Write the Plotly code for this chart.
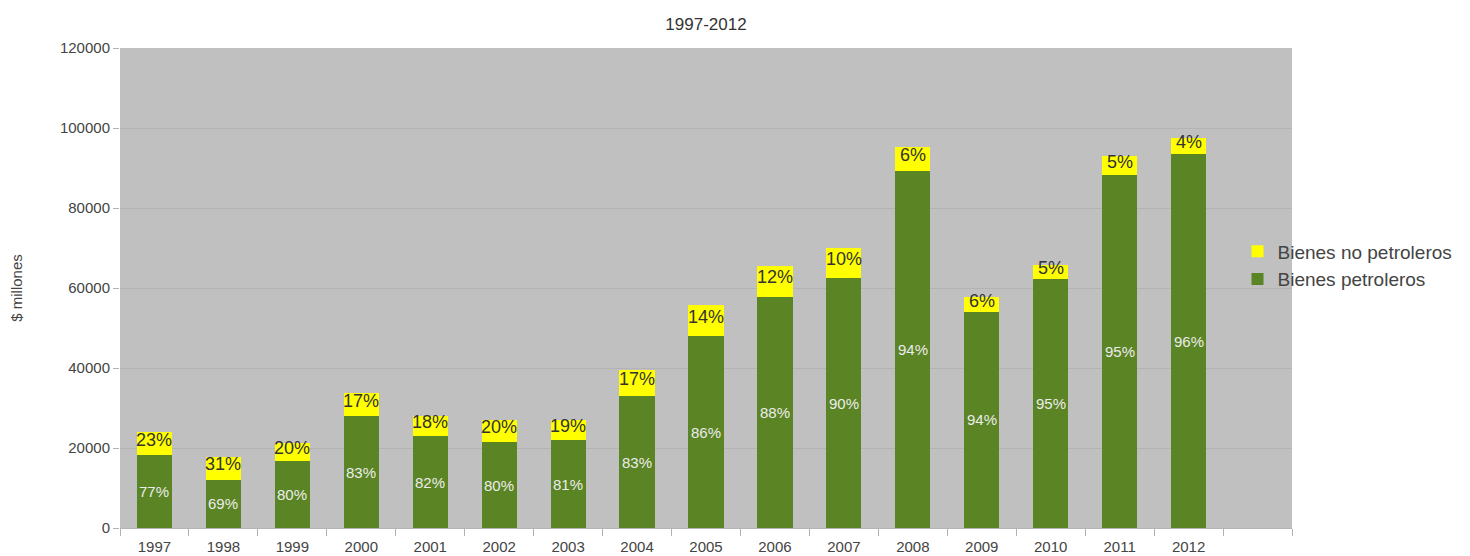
import plotly.graph_objects as go

years = [1997, 1998, 1999, 2000, 2001, 2002, 2003, 2004, 2005, 2006, 2007, 2008, 2009, 2010, 2011, 2012]
petroleros = [18250, 12100, 16800, 27900, 22900, 21500, 22000, 32900, 47900, 57750, 62500, 89250, 54100, 62150, 88250, 93500]
no_petroleros = [5750, 5700, 4400, 5850, 5050, 5400, 5100, 6650, 7850, 7800, 7550, 5900, 3550, 3650, 4650, 4000]
pct_petroleros = ["77%", "69%", "80%", "83%", "82%", "80%", "81%", "83%", "86%", "88%", "90%", "94%", "94%", "95%", "95%", "96%"]
pct_no_petroleros = ["23%", "31%", "20%", "17%", "18%", "20%", "19%", "17%", "14%", "12%", "10%", "6%", "6%", "5%", "5%", "4%"]

FONT = "Liberation Sans, Arial, sans-serif"
GREEN = "#5b8424"
YELLOW = "#ffff00"

fig = go.Figure()
fig.add_trace(go.Bar(x=years, y=petroleros, name="Bienes petroleros",
                     marker=dict(color=GREEN, line=dict(width=0)), width=0.51,
                     hoverinfo="x+y"))
fig.add_trace(go.Bar(x=years, y=no_petroleros, name="Bienes no petroleros",
                     marker=dict(color=YELLOW, line=dict(width=0)), width=0.51,
                     hoverinfo="x+y"))

annotations = []
for yr, g, yl, pg, py in zip(years, petroleros, no_petroleros, pct_petroleros, pct_no_petroleros):
    annotations.append(dict(x=yr, y=g / 2, text=pg, showarrow=False,
                            font=dict(family=FONT, size=15, color="#ececec")))
    annotations.append(dict(x=yr, y=g + yl / 2, text=py, showarrow=False, yshift=4,
                            font=dict(family=FONT, size=18, color="#333333")))

fig.update_layout(
    barmode="stack",
    width=1470, height=556,
    margin=dict(l=120, r=178, t=48, b=28),
    paper_bgcolor="white",
    plot_bgcolor="#c0c0c0",
    font=dict(family=FONT, size=15, color="#444444"),
    title=dict(text="1997-2012", x=0.5, xanchor="center", y=0.956, yanchor="middle",
               xref="paper", font=dict(family=FONT, size=17, color="#333333")),
    showlegend=True,
    legend=dict(traceorder="reversed", x=0.9535, xanchor="left", y=0.547, yanchor="middle",
                bgcolor="rgba(0,0,0,0)", font=dict(family=FONT, size=19, color="#444444"),
                itemsizing="constant", tracegroupgap=0),
    annotations=annotations,
    xaxis=dict(range=[1996.5, 2013.5], tickmode="array", tickvals=years,
               ticktext=[str(y) for y in years], ticks="", showgrid=False, zeroline=False,
               showline=True, linecolor="#b3b3b3", linewidth=1, automargin=False,
               ticklabelstandoff=5,
               tickfont=dict(family=FONT, size=15, color="#444444"),
               minor=dict(tick0=1996.5, dtick=1, ticks="outside", ticklen=7,
                          tickcolor="#b3b3b3", showgrid=False),
               fixedrange=True),
    yaxis=dict(range=[0, 120000], dtick=20000, tickformat="d", showgrid=True,
               gridcolor="#b3b3b3", gridwidth=1, zeroline=False, showline=False,
               ticks="outside", ticklen=6, tickcolor="#b3b3b3", automargin=False,
               tickfont=dict(family=FONT, size=15, color="#444444"),
               title=dict(text="$ millones", standoff=33,
                          font=dict(family=FONT, size=15, color="#444444")),
               fixedrange=True),
)

fig.write_html("out.html")
